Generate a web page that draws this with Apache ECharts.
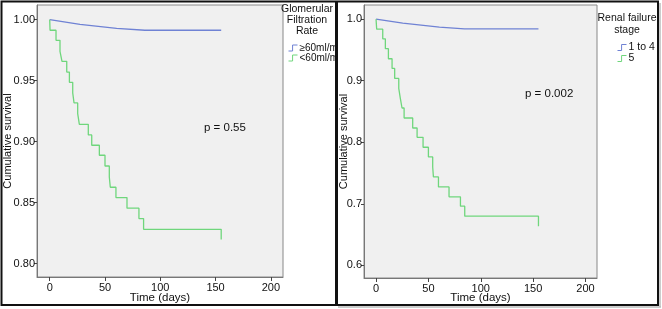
<!DOCTYPE html>
<html>
<head>
<meta charset="utf-8">
<script src="https://cdn.jsdelivr.net/npm/echarts@6/dist/echarts.min.js"></script>
<style>
html, body { margin: 0; padding: 0; background: #fff; }
#main { width: 662px; height: 309px; }
</style>
</head>
<body>
<div id="main"></div>
<script>
// left panel - glomerular filtration rate groups
var gfrHighTime = [0, 27.4, 60.5, 86.1, 155.1];
var gfrHighSurv = [1.0, 0.9962, 0.9929, 0.9913, 0.9913];
var gfrLowTime = [0, 0.3, 5.7, 9.3, 11.1, 15.4, 17.8, 20.8, 22.0, 25.3, 26.8, 34.9, 38.0, 44.9, 50.0, 53.9, 54.8, 59.9, 69.9, 80.7, 84.9, 155.1];
var gfrLowSurv = [1.0, 0.9913, 0.983, 0.974, 0.9658, 0.957, 0.9486, 0.9399, 0.9317, 0.923, 0.9142, 0.9055, 0.897, 0.8888, 0.880, 0.871, 0.8626, 0.8541, 0.8454, 0.8369, 0.8281, 0.8197];

// right panel - renal failure stage
var stage14Time = [0, 25.5, 60.5, 84.4, 155.1];
var stage14Surv = [1.0, 0.9935, 0.987, 0.9843, 0.9843];
var stage5Time = [0, 0.6, 6.4, 8.9, 11.8, 15.3, 17.8, 21.7, 23.2, 24.8, 26.8, 35.0, 39.2, 44.9, 50.0, 54.1, 54.8, 59.6, 69.7, 80.6, 84.7, 155.1];
var stage5Surv = [1.0, 0.9838, 0.968, 0.952, 0.9357, 0.92, 0.9038, 0.8876, 0.8714, 0.8557, 0.8395, 0.8232, 0.808, 0.792, 0.7762, 0.76, 0.7438, 0.7276, 0.7114, 0.6962, 0.68, 0.6638];

var xTicks = [0, 50, 100, 150, 200];
var leftYTicks = [0.80, 0.85, 0.90, 0.95, 1.00];
var rightYTicks = [0.6, 0.7, 0.8, 0.9, 1.0];

var BLUE = '#6f82d4';
var GREEN = '#6fd67c';
var FONT = '"Liberation Sans", Arial, sans-serif';

function pairs(xs, ys) {
    return xs.map(function (x, i) { return [x, ys[i]]; });
}

var chart = echarts.init(document.getElementById('main'));

function xAxisFor(gridIndex, gap) {
    return {
        type: 'value', gridIndex: gridIndex, min: -11.5, max: 211,
        name: 'Time (days)', nameLocation: 'middle', nameGap: gap, nameMoveOverlap: false,
        nameTextStyle: { fontSize: 11.5, color: '#111', fontFamily: FONT },
        axisLine: { show: true, onZero: false, lineStyle: { color: '#777' } },
        axisTick: { show: true, length: 4, customValues: xTicks, lineStyle: { color: '#444' } },
        axisLabel: { customValues: xTicks, fontSize: 11, color: '#111', fontFamily: FONT, margin: 5 },
        splitLine: { show: false }
    };
}

function yAxisFor(gridIndex, ticks, min, max, digits, gap) {
    return {
        type: 'value', gridIndex: gridIndex, min: min, max: max,
        name: 'Cumulative survival', nameLocation: 'middle', nameGap: gap, nameMoveOverlap: false,
        nameTextStyle: { fontSize: 11, color: '#111', fontFamily: FONT },
        axisLine: { show: true, onZero: false, lineStyle: { color: '#777' } },
        axisTick: { show: true, length: 3, customValues: ticks, lineStyle: { color: '#444' } },
        axisLabel: {
            customValues: ticks, fontSize: 11, color: '#111', fontFamily: FONT, margin: 2,
            formatter: function (v) { return (+v).toFixed(digits); }
        },
        splitLine: { show: false }
    };
}

function kmSeries(name, idx, data, color, step) {
    return {
        name: name, type: 'line', xAxisIndex: idx, yAxisIndex: idx,
        data: data, step: step ? 'end' : false, symbol: 'none', silent: true,
        lineStyle: { color: color, width: 1.3 }, itemStyle: { color: color }
    };
}

function legendItem(name, color) {
    return { name: name, itemStyle: { color: 'transparent', borderColor: color, borderWidth: 1 } };
}

var option = {
    animation: false,
    backgroundColor: '#fff',
    grid: [
        { left: 37, right: 379, top: 5, bottom: 32, show: true, backgroundColor: '#f0f0f0', borderColor: '#888', borderWidth: 1 },
        { left: 364, right: 65, top: 5, bottom: 30, show: true, backgroundColor: '#f0f0f0', borderColor: '#888', borderWidth: 1 }
    ],
    xAxis: [xAxisFor(0, 15), xAxisFor(1, 14)],
    yAxis: [
        yAxisFor(0, leftYTicks, 0.789, 1.012, 2, 24),
        yAxisFor(1, rightYTicks, 0.5796, 1.023, 1, 15)
    ],
    legend: [
        {
            orient: 'vertical', left: 283, top: 38, itemWidth: 9, itemHeight: 6, itemGap: 0,
            icon: 'path://M0,6 L5,6 L5,0 L11,0', symbolKeepAspect: false,
            textStyle: { fontSize: 10, lineHeight: 9, color: '#111', fontFamily: FONT, padding: [0, 0, 0, -3], width: 42, overflow: 'truncate', ellipsis: '' },
            data: [legendItem('≥60ml/min', BLUE), legendItem('<60ml/min', GREEN)]
        },
        {
            orient: 'vertical', left: 612, top: 37, itemWidth: 9, itemHeight: 6, itemGap: 0,
            icon: 'path://M0,6 L5,6 L5,0 L11,0', symbolKeepAspect: false,
            textStyle: { fontSize: 10.5, lineHeight: 10, color: '#111', fontFamily: FONT, padding: [0, 0, 0, -3] },
            data: [legendItem('1 to 4', BLUE), legendItem('5', GREEN)]
        }
    ],
    series: [
        kmSeries('≥60ml/min', 0, pairs(gfrHighTime, gfrHighSurv), BLUE, false),
        kmSeries('<60ml/min', 0, pairs(gfrLowTime, gfrLowSurv), GREEN, true),
        kmSeries('1 to 4', 1, pairs(stage14Time, stage14Surv), BLUE, false),
        kmSeries('5', 1, pairs(stage5Time, stage5Surv), GREEN, true)
    ],
    graphic: [
        // legend titles
        { type: 'text', z: 10, style: { text: 'Glomerular\nFiltration\nRate', x: 307, y: 4, align: 'center', verticalAlign: 'top', lineHeight: 11, font: '10.5px ' + FONT, fill: '#111' } },
        { type: 'text', z: 10, style: { text: 'Renal failure\nstage', x: 627, y: 12, align: 'center', verticalAlign: 'top', lineHeight: 12, font: '10.5px ' + FONT, fill: '#111' } },
        // p values
        { type: 'text', z: 10, style: { text: 'p = 0.55', x: 204, y: 128, verticalAlign: 'middle', font: '11.5px ' + FONT, fill: '#111' } },
        { type: 'text', z: 10, style: { text: 'p = 0.002', x: 525, y: 94, verticalAlign: 'middle', font: '11.5px ' + FONT, fill: '#111' } },
        // panel frames
        { type: 'rect', z: 20, silent: true, shape: { x: 1.5, y: 1.5, width: 656.5, height: 303.5 }, style: { fill: 'none', stroke: '#111', lineWidth: 2 } },
        { type: 'line', z: 20, silent: true, shape: { x1: 336.5, y1: 1, x2: 336.5, y2: 306 }, style: { stroke: '#111', lineWidth: 3 } },
        { type: 'line', z: 19, silent: true, shape: { x1: 660, y1: 3, x2: 660, y2: 307 }, style: { stroke: '#bbb', lineWidth: 1.5 } },
        { type: 'line', z: 19, silent: true, shape: { x1: 338, y1: 307, x2: 661, y2: 307 }, style: { stroke: '#bbb', lineWidth: 1.5 } }
    ]
};

chart.setOption(option);
</script>
</body>
</html>
